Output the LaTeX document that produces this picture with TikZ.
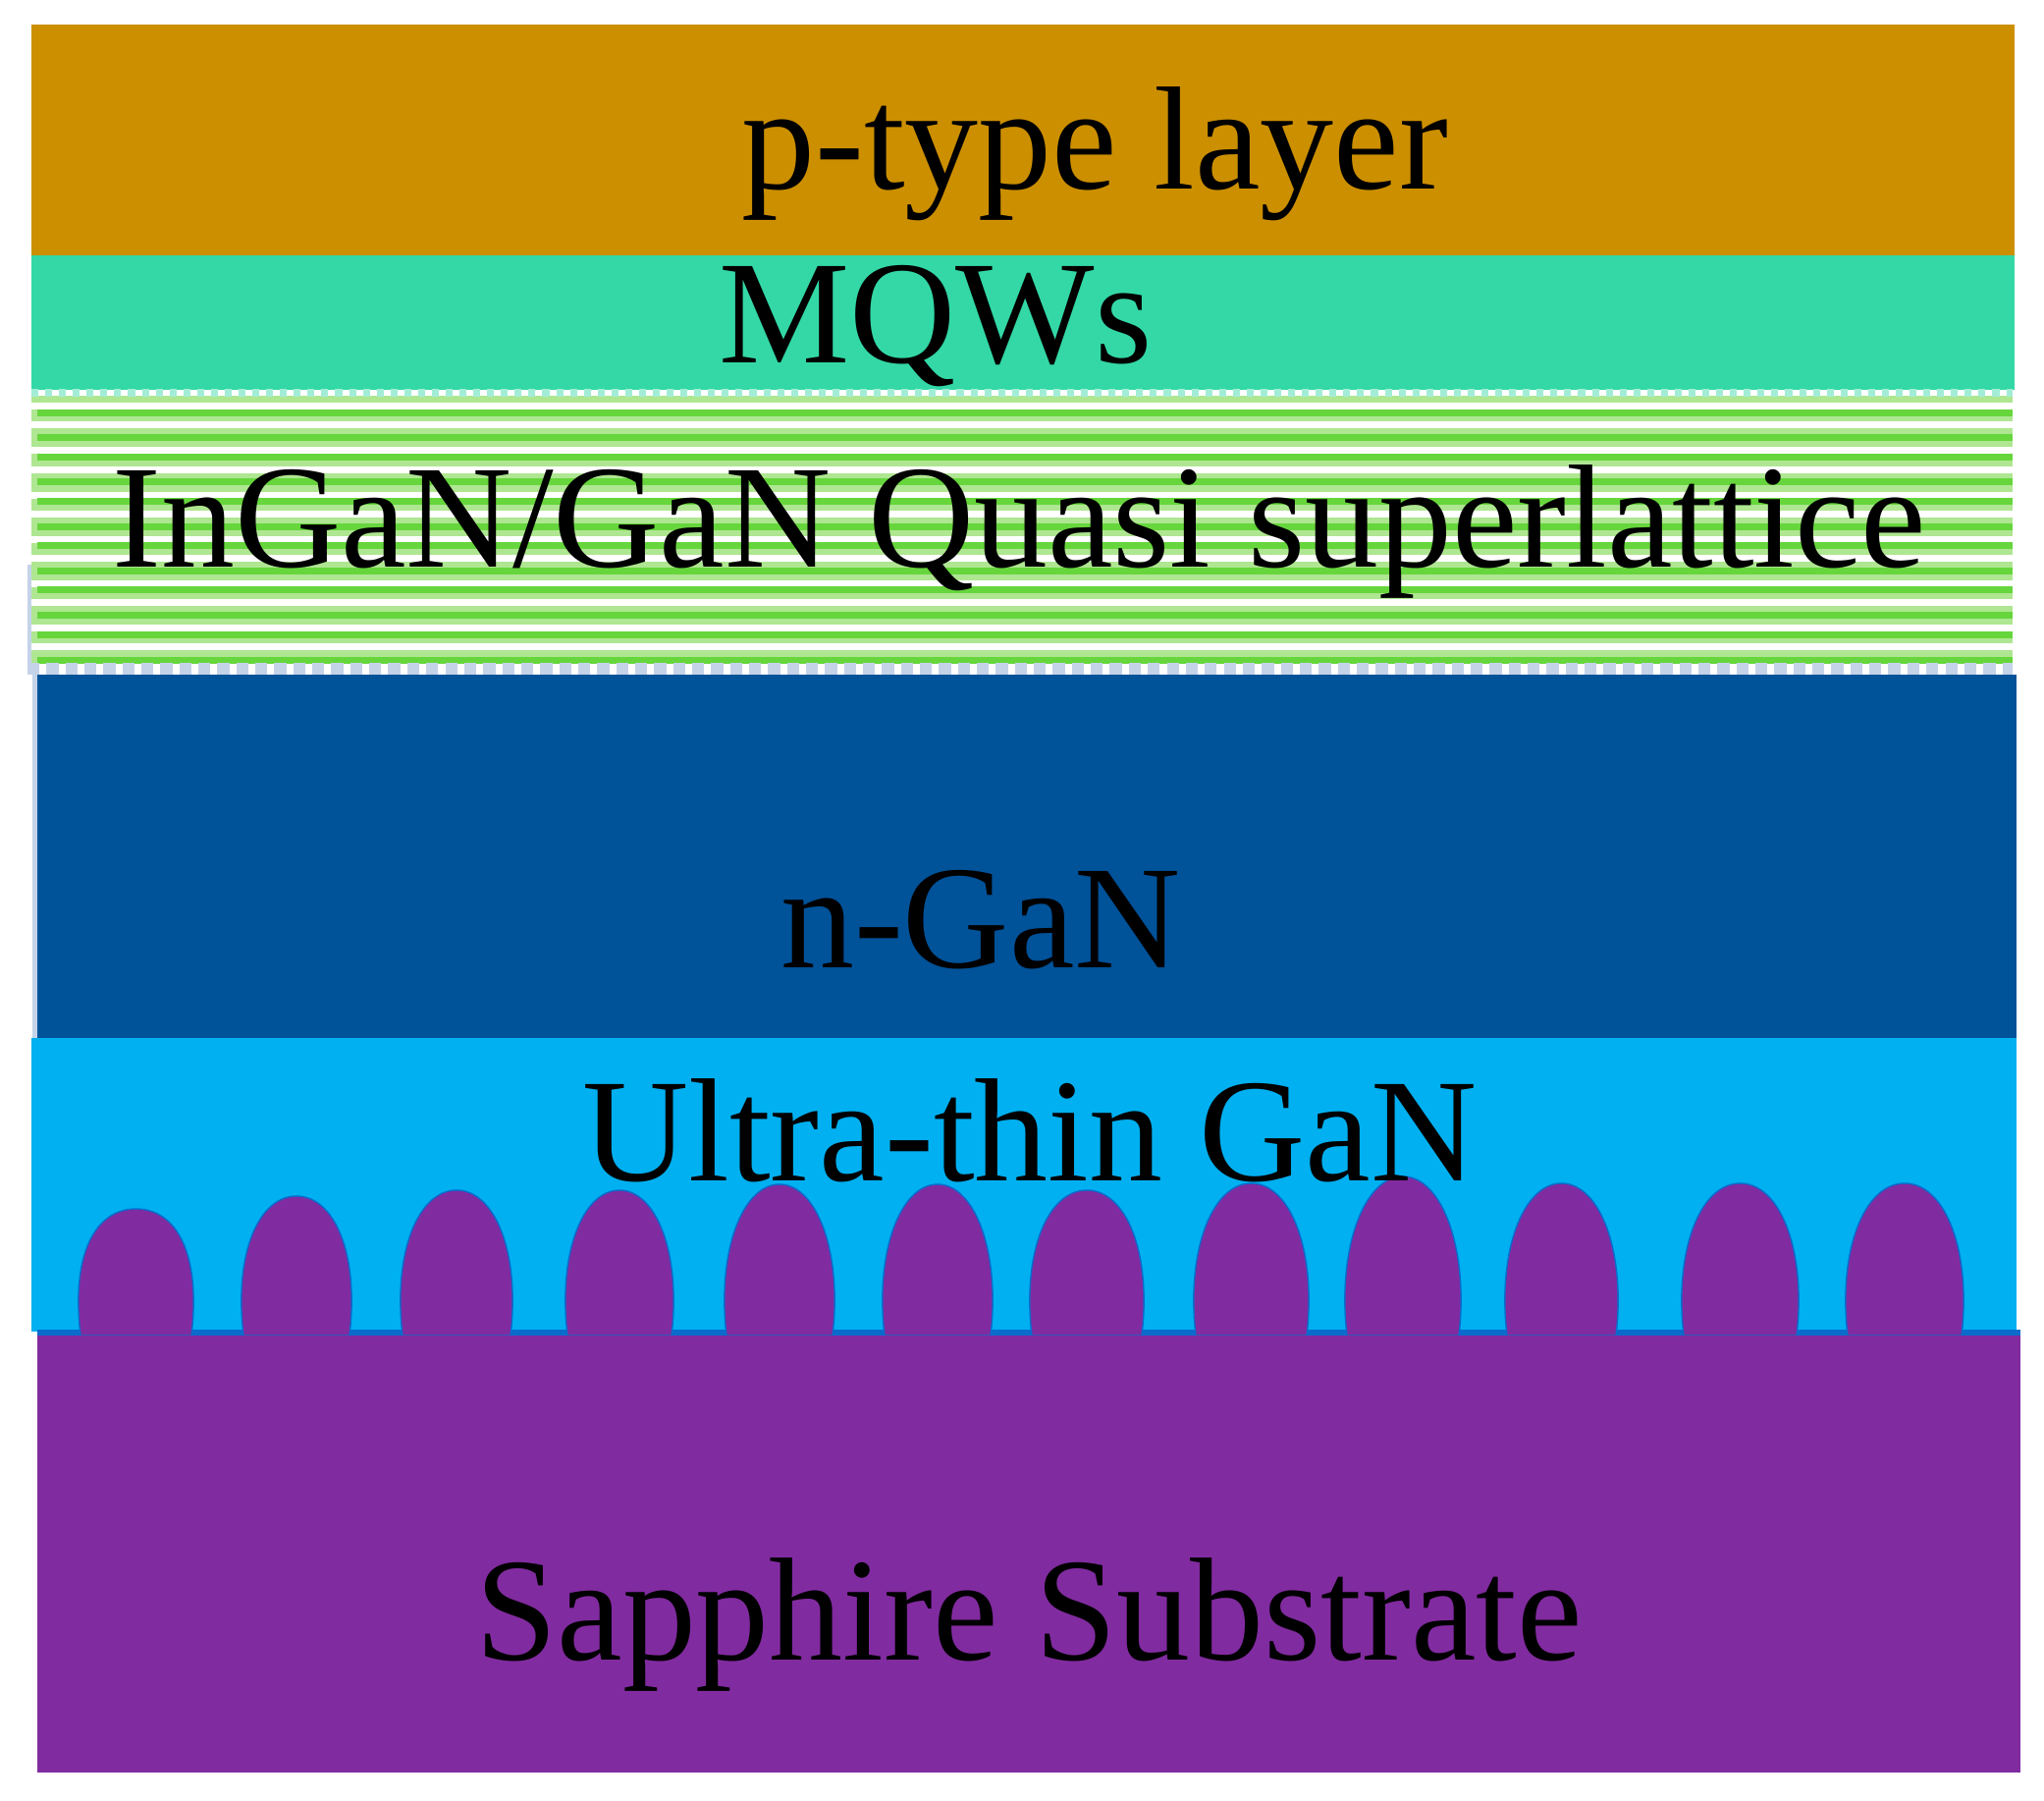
\documentclass[tikz,border=0pt]{standalone}
\usepackage{fontspec}
\setmainfont{Liberation Serif}
\definecolor{ptype}{RGB}{204,143,0}
\definecolor{mqw}{RGB}{51,216,166}
\definecolor{greendark}{RGB}{102,214,60}
\definecolor{greenlight}{RGB}{175,230,145}
\definecolor{ngan}{RGB}{0,82,153}
\definecolor{thingan}{RGB}{0,176,240}
\definecolor{sapphire}{RGB}{129,43,160}
\definecolor{edgeblue}{RGB}{10,107,204}
\definecolor{paleblue}{RGB}{197,211,232}
\tikzset{
  layerlabel/.style={anchor=base,inner sep=0pt,text=black,font=\fontsize{42.6}{48}\selectfont},
  bump/.style={fill=sapphire,draw=edgeblue,line width=0.4pt}
}
\begin{document}
\begin{tikzpicture}[x=0.01cm,y=-0.01cm]
  \useasboundingbox (0,0) rectangle (2082,1833);
  \fill[ptype] (32,25) rectangle (2052,260);
  \fill[mqw] (32,260) rectangle (2052,397);
  \fill[paleblue] (28,575) rectangle (38,687);
  \fill[greenlight] (32,403) rectangle (2050,675);
  \foreach \ywhite in {410,429,455,475,501,520,546,565,591,610,636,655}
    \fill[white] (32,\ywhite) rectangle (2050,\ywhite+6.5);
  \foreach \ygreen in {417,442,462,487,507,533,552,578,597,623,643,669}
    \fill[greendark] (38,\ygreen) rectangle (2050,\ygreen+6.5);
  \draw[mqw!45!white,line width=2pt,dotted] (32,400) -- (2050,400);
  \draw[paleblue,line width=3.5pt,dotted] (28,681) -- (2050,681);
  \fill[paleblue] (33,687) rectangle (38,1057);
  \fill[ngan] (38,687) rectangle (2054,1057);
  \fill[thingan] (32,1057) rectangle (2054,1356);
  \fill[edgeblue] (38,1354) rectangle (2058,1361);
  \foreach \xa/\xb/\ytop in {78/199/1231,244/360/1218,406/524/1212,574/688/1212,
      736/852/1206,897/1013/1206,1047/1167/1212,1214/1335/1205,1368/1490/1198,
      1531/1650/1205,1711/1834/1205,1878/2002/1205}
    \draw[bump] (\xa+4,1360) .. controls (\xa-6,1275) and (\xa+20,\ytop) .. ({(\xa+\xb)/2},\ytop)
      .. controls (\xb-20,\ytop) and (\xb+6,1275) .. (\xb-4,1360) -- cycle;
  \fill[sapphire] (38,1360) rectangle (2058,1805);
  \node[layerlabel] (ptypelabel) at (1115,192) {p-type layer};
  \node[layerlabel] (mqwlabel) at (953,369) {MQWs};
  \node[layerlabel] (sllabel) at (1038,577) {InGaN/GaN Quasi superlattice};
  \node[layerlabel] (nganlabel) at (999,985) {n-GaN};
  \node[layerlabel] (thinlabel) at (1049,1202) {Ultra-thin GaN};
  \node[layerlabel] (sapphirelabel) at (1048,1690) {Sapphire Substrate};
\end{tikzpicture}
\end{document}
